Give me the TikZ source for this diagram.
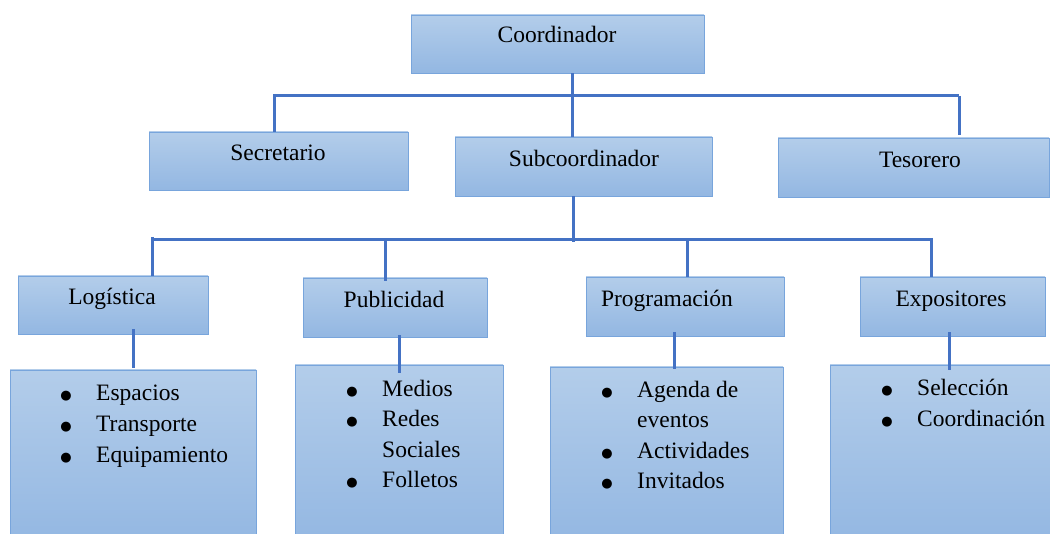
\documentclass[tikz,border=0pt]{standalone}
\usepackage{fontspec}
\setmainfont{Liberation Serif}
\newfontfamily\bulletfont{DejaVu Sans}
\usetikzlibrary{calc}
\definecolor{boxtop}{HTML}{B3CDEA}
\definecolor{boxbot}{HTML}{93B7E2}
\definecolor{boxline}{HTML}{78A5DC}
\definecolor{conn}{HTML}{4472C4}
\newcommand{\itm}{\llap{\raisebox{1.5pt}{\bulletfont\fontsize{13}{13}\selectfont ●}\hspace{24.5pt}}}
\begin{document}
\begin{tikzpicture}[x=1pt,y=-1pt,
  box/.style={draw=boxline,line width=0.8pt,top color=boxtop,bottom color=boxbot,inner sep=0pt,rectangle},
  lbl/.style={anchor=base,inner sep=0pt,font=\fontsize{23.5}{31}\selectfont},
  itemtxt/.style={anchor=base west,inner sep=0pt,font=\fontsize{23.5}{31}\selectfont},
  link/.style={draw=conn,line width=3pt}]
\useasboundingbox (0,0) rectangle (1050,534);
% boxes
\node[box,minimum width=293pt,minimum height=58pt] (coord) at (557.5,44) {};
\node[box,minimum width=259pt,minimum height=58pt] (secr) at (278.5,161) {};
\node[box,minimum width=257pt,minimum height=59pt] (subc) at (583.5,166.5) {};
\node[box,minimum width=271pt,minimum height=59pt] (teso) at (913.5,167.5) {};
\node[box,minimum width=190pt,minimum height=58pt] (logi) at (113,305) {};
\node[box,minimum width=184pt,minimum height=59pt] (publ) at (395,307.5) {};
\node[box,minimum width=198pt,minimum height=59pt] (prog) at (685,306.5) {};
\node[box,minimum width=185pt,minimum height=59pt] (expo) at (952.5,306.5) {};
\node[box,minimum width=246pt,minimum height=175pt] (logl) at (133,457.5) {};
\node[box,minimum width=208pt,minimum height=180pt] (publl) at (399,455) {};
\node[box,minimum width=233pt,minimum height=178pt] (progl) at (666.5,456) {};
\node[box,minimum width=230pt,minimum height=180pt] (expol) at (945,455) {};
% junction points
\coordinate (h1L) at (274,96);
\coordinate (h1R) at (959,96);
\coordinate (h2L) at (152,240);
\coordinate (h2R) at (931,240);
\coordinate (cs) at ($(coord.south)+(14.5,0)$);
\coordinate (ss) at ($(subc.south)+(-10.5,0)$);
% labels
\node[lbl] (tcoord) at (557,43) {Coordinador};
\node[lbl] (tsecr) at (278,161) {Secretario};
\node[lbl] (tsubc) at (584,167) {Subcoordinador};
\node[lbl] (tteso) at (920,168) {Tesorero};
\node[lbl] (tlogi) at (112,305) {Logística};
\node[lbl] (tpubl) at (394,308) {Publicidad};
\node[lbl] (tprog) at (667,307) {Programación};
\node[lbl] (texpo) at (951,307) {Expositores};
% lists
\node[itemtxt] (a1) at (96,401) {\itm Espacios};
\node[itemtxt] (a2) at (96,432) {\itm Transporte};
\node[itemtxt] (a3) at (96,463) {\itm Equipamiento};
\node[itemtxt] (b1) at (382,397) {\itm Medios};
\node[itemtxt] (b2) at (382,427) {\itm Redes};
\node[itemtxt] (b3) at (382,457) {Sociales};
\node[itemtxt] (b4) at (382,488) {\itm Folletos};
\node[itemtxt] (c1) at (637,398) {\itm Agenda de};
\node[itemtxt] (c2) at (637,428) {eventos};
\node[itemtxt] (c3) at (637,459) {\itm Actividades};
\node[itemtxt] (c4) at (637,489) {\itm Invitados};
\node[itemtxt] (d1) at (917,396) {\itm Selección};
\node[itemtxt] (d2) at (917,427) {\itm Coordinación};
% top level
\draw[link] (cs) -- (cs |- subc.north);
\draw[link] (h1L) -- (h1R);
\draw[link] ($(h1L)+(0,-2)$) -- (h1L |- secr.north);
\draw[link] (h1R) -- ($(h1R |- teso.north)+(0,-3)$);
% second level
\draw[link] (ss) -- ($(ss |- h2L)+(0,2)$);
\draw[link] (h2L) -- (h2R);
\draw[link] ($(h2L)+(0,-3)$) -- (h2L |- logi.north);
\draw[link] (385,240) coordinate (pj) -- ($(pj |- publ.north)+(0,3)$);
\draw[link] (687,240) coordinate (gj) -- (gj |- prog.north);
\draw[link] ($(h2R)+(0,-2)$) -- (h2R |- expo.north);
% lower connectors
\draw[link] ($(logi.south)+(20,-5)$) coordinate (l1) -- ($(l1 |- logl.north)+(0,-2)$);
\draw[link] ($(publ.south)+(4,-2)$) coordinate (l2) -- ($(l2 |- publl.north)+(0,8)$);
\draw[link] ($(prog.south)+(-11,-4)$) coordinate (l3) -- ($(l3 |- progl.north)+(0,2)$);
\draw[link] ($(expo.south)+(-3.5,-4)$) coordinate (l4) -- ($(l4 |- expol.north)+(0,5)$);
\end{tikzpicture}
\end{document}
